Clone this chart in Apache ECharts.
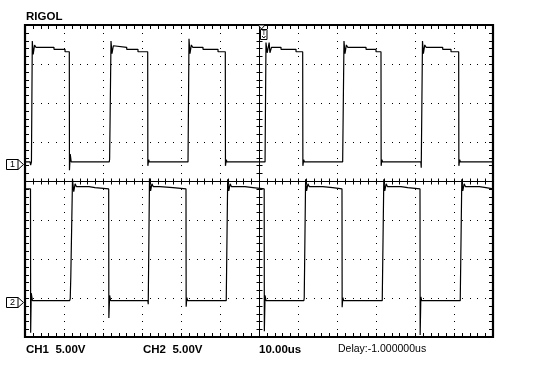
<!DOCTYPE html>
<html><head><meta charset="utf-8">
<script src="https://cdn.jsdelivr.net/npm/echarts@6/dist/echarts.min.js"></script>
<style>html,body{margin:0;padding:0;background:#fff}#c{width:546px;height:390px}</style>
</head><body><div id="c"></div>
<script>
// ---- scope settings ----
const TIME_PER_DIV = 10;   // us/div
const VOLT_PER_DIV = 5;    // V/div
const H_DIVS = 12;
const V_DIVS = 8;
const CH1_POS = 2.24;      // ground of CH1 on screen (V)
const CH2_POS = -15.47;    // ground of CH2 on screen (V)
const TRIG_T = 60.4;       // trigger position (us)

// ---- labels ----
const TITLE = 'RIGOL';
const CH1_LABEL = 'CH1  5.00V';
const CH2_LABEL = 'CH2  5.00V';
const TIME_LABEL = '10.00us';
const DELAY_LABEL = 'Delay:-1.000000us';

// ---- waveforms: [time us, volts] ----
const ch1 = [
 [0,0.2],[1.3,0.2],[1.45,-0.2],[1.65,0.2],
 [1.87,15.7],[2.1,14.0],[2.45,15.2],[2.8,14.9],[7.43,14.9],[7.43,14.64],[10.26,14.64],[10.26,14.33],[11.36,14.33],[11.4,-0.85],[11.6,1.2],[11.85,0.2],
 [21.6,0.2],[21.7,0.55],[21.75,0.55],
 [22.05,15.7],[22.3,14.1],[22.65,15.1],[23.0,14.9],[26.08,14.9],[26.08,14.64],[28.97,14.64],[28.97,14.33],[31.46,14.33],[31.5,-0.3],[31.7,0.5],[31.9,0.2],
 [41.8,0.2],
 [42.05,16.0],[42.3,14.1],[42.65,15.2],[43.0,14.9],[45.64,14.9],[45.64,14.64],[49.49,14.64],[49.49,14.33],[51.36,14.33],[51.4,-0.3],[51.6,0.5],[51.8,0.2],
 [61.55,0.2],
 [61.79,15.5],[62.1,14.2],[62.6,15.5],[62.8,14.2],[63.2,14.9],[65.64,14.9],[65.64,14.64],[69.49,14.64],[69.49,14.33],[71.2,14.33],[71.25,-0.3],[71.45,0.5],[71.65,0.2],
 [81.45,0.2],[81.55,0.0],
 [81.79,15.7],[82.05,14.1],[82.4,15.2],[82.75,14.9],[87.44,14.9],[87.44,14.64],[90.0,14.64],[90.0,14.33],[91.28,14.33],[91.32,-0.3],[91.5,0.5],[91.7,0.2],
 [101.5,0.2],[101.6,-0.55],
 [101.92,15.7],[102.15,14.1],[102.5,15.2],[102.85,14.9],[107.1,14.9],[107.1,14.64],[109.23,14.64],[109.23,14.33],[111.2,14.33],[111.25,-0.3],[111.45,0.5],[111.65,0.2],
 [120,0.2]
];
const ch2 = [
 [0,14.45],[1.41,14.45],[1.45,-4.0],[1.6,1.1],[1.9,0.13],
 [11.45,0.13],[11.6,0.4],[11.75,3.3],
 [12.18,15.7],[12.5,14.1],[12.85,15.1],[13.2,14.74],[16.41,14.74],[16.41,14.62],[17.95,14.62],[17.95,14.45],[21.46,14.45],[21.5,-2.1],[21.7,0.8],[21.95,0.13],
 [31.5,0.13],[31.6,-0.33],
 [31.92,15.8],[32.2,14.2],[32.55,15.1],[32.9,14.74],[34.6,14.74],[34.6,14.62],[37.95,14.62],[37.95,14.45],[41.28,14.45],[41.32,-0.64],[41.5,0.5],[41.7,0.13],
 [51.6,0.13],
 [51.97,15.7],[52.25,14.2],[52.6,15.1],[52.95,14.74],[56.41,14.74],[56.41,14.62],[58.46,14.62],[58.46,14.45],[61.33,14.45],[61.37,-3.8],[61.55,0.8],[61.8,0.13],
 [71.5,0.13],[71.6,0.5],
 [71.95,15.7],[72.2,14.2],[72.55,15.1],[72.9,14.74],[76.33,14.74],[76.33,14.62],[78.9,14.62],[78.9,14.45],[81.28,14.45],[81.32,-0.72],[81.5,0.5],[81.7,0.13],
 [91.6,0.13],
 [92.0,15.7],[92.25,14.2],[92.6,15.1],[92.95,14.74],[96.41,14.74],[96.41,14.62],[98.13,14.62],[98.13,14.45],[101.28,14.45],[101.32,-4.27],[101.5,0.6],[101.7,0.13],
 [111.6,0.13],
 [112.0,15.7],[112.25,14.2],[112.6,15.1],[112.95,14.74],[116.5,14.74],[116.5,14.62],[118.2,14.62],[118.2,14.45],[120,14.45]
];

const T_MAX = TIME_PER_DIV * H_DIVS;
const V_HALF = VOLT_PER_DIV * V_DIVS / 2;
const T_MIN_STEP = TIME_PER_DIV / 5;
const V_MIN_STEP = VOLT_PER_DIV / 5;

function graticule(params, api) {
  const c = [];
  const P = (t, v) => api.coord([t, v]);
  const x0 = P(0, 0)[0], x1 = P(T_MAX, 0)[0];
  const yT = P(0, V_HALF)[1], yB = P(0, -V_HALF)[1];
  const xc = Math.round(P(T_MAX / 2, 0)[0]), yc = Math.round(P(0, 0)[1]);
  const dot = (x, y) => c.push({type:'rect', shape:{x:Math.round(x), y:Math.round(y), width:1, height:1}, style:{fill:'#000'}});
  const ln = (a, b, d, e, w) => c.push({type:'line', shape:{x1:a, y1:b, x2:d, y2:e}, style:{stroke:'#000', lineWidth:w || 1}});
  // dotted division lines
  for (let i = 1; i < H_DIVS; i++) {
    if (i === H_DIVS / 2) continue;
    const x = P(i * TIME_PER_DIV, 0)[0];
    for (let v = -V_HALF + V_MIN_STEP; v < V_HALF - 1e-6; v += V_MIN_STEP) dot(x, P(0, v)[1]);
  }
  for (let j = 1; j < V_DIVS; j++) {
    if (j === V_DIVS / 2) continue;
    const y = P(0, -V_HALF + j * VOLT_PER_DIV)[1];
    for (let t = T_MIN_STEP; t < T_MAX - 1e-6; t += T_MIN_STEP) dot(P(t, 0)[0], y);
  }
  // center cross
  ln(xc + 0.5, yT, xc + 0.5, yB);
  ln(x0, yc + 0.5, x1, yc + 0.5);
  for (let t = T_MIN_STEP; t < T_MAX - 1e-6; t += T_MIN_STEP) {
    const x = Math.round(P(t, 0)[0]) + 0.5;
    ln(x, yc - 2.5, x, yc + 3.5);
    ln(x, yT, x, yT + 4);
    ln(x, yB - 4, x, yB);
  }
  for (let v = -V_HALF + V_MIN_STEP; v < V_HALF - 1e-6; v += V_MIN_STEP) {
    const y = Math.round(P(0, v)[1]) + 0.5;
    ln(xc - 2.5, y, xc + 3.5, y);
    ln(x0, y, x0 + 4, y);
    ln(x1 - 4, y, x1, y);
  }
  // border
  c.push({type:'rect', shape:{x:x0, y:yT, width:x1 - x0, height:yB - yT}, style:{fill:null, stroke:'#000', lineWidth:2.2}});
  // channel markers
  [[CH1_POS, '1'], [CH2_POS, '2']].forEach(([pos, lab]) => {
    const y = Math.round(P(0, pos)[1]) + 0.5;
    c.push({type:'rect', shape:{x:6.5, y:y - 5, width:11.5, height:10}, style:{fill:'#fff', stroke:'#000', lineWidth:1}});
    c.push({type:'polyline', shape:{points:[[18, y - 5], [23.5, y], [18, y + 5]]}, style:{fill:null, stroke:'#000', lineWidth:1}});
    c.push({type:'text', x:12.5, y:y + 0.5, style:{text:lab, font:'9px "Liberation Sans"', fill:'#000', align:'center', verticalAlign:'middle'}});
  });
  // trigger marker
  const xt = Math.round(P(TRIG_T, 0)[0]) + 0.5;
  c.push({type:'polygon', shape:{points:[[xt - 3.5, yT], [xt + 3.5, yT], [xt, yT + 4]]}, style:{fill:'#fff', stroke:'#000', lineWidth:1}});
  c.push({type:'rect', shape:{x:xt - 1, y:yT + 4.5, width:6.5, height:10}, style:{fill:'#fff', stroke:'#000', lineWidth:1}});
  c.push({type:'text', x:xt + 2.3, y:yT + 8, style:{text:'T', font:'7px "Liberation Sans"', fill:'#000', align:'center', verticalAlign:'middle'}});
  c.push({type:'polyline', shape:{points:[[xt + 0.5, yT + 11], [xt + 2.3, yT + 13], [xt + 4, yT + 11]]}, style:{fill:null, stroke:'#000', lineWidth:1}});
  return {type:'group', children:c};
}

const toScreen = (arr, pos) => arr.map(d => [d[0], d[1] + pos]);

const chart = echarts.init(document.getElementById('c'), null, {renderer:'canvas'});
chart.setOption({
  animation: false,
  backgroundColor: '#fff',
  grid: {left:25, top:25, width:468, height:312},
  xAxis: {type:'value', min:0, max:T_MAX, show:false},
  yAxis: {type:'value', min:-V_HALF, max:V_HALF, show:false},
  series: [
    {type:'custom', name:'graticule', renderItem:graticule, data:[[0, 0]], clip:false, silent:true, z:1},
    {type:'line', name:'CH1', data:toScreen(ch1, CH1_POS), showSymbol:false, symbol:'none',
     lineStyle:{color:'#000', width:1.2}, z:3, silent:true},
    {type:'line', name:'CH2', data:toScreen(ch2, CH2_POS), showSymbol:false, symbol:'none',
     lineStyle:{color:'#000', width:1.2}, z:3, silent:true}
  ],
  graphic: [
    {type:'text', x:26, y:17, style:{text:TITLE, font:'bold 11.5px "Liberation Sans"', fill:'#000', verticalAlign:'middle'}},
    {type:'text', x:26, y:349.5, style:{text:CH1_LABEL, font:'bold 11.5px "Liberation Sans"', fill:'#000', verticalAlign:'middle'}},
    {type:'text', x:143, y:349.5, style:{text:CH2_LABEL, font:'bold 11.5px "Liberation Sans"', fill:'#000', verticalAlign:'middle'}},
    {type:'text', x:259, y:349.5, style:{text:TIME_LABEL, font:'bold 11.5px "Liberation Sans"', fill:'#000', verticalAlign:'middle'}},
    {type:'text', x:338, y:349.5, style:{text:DELAY_LABEL, font:'10.5px "Liberation Sans"', fill:'#000', verticalAlign:'middle'}}
  ]
});
</script></body></html>
